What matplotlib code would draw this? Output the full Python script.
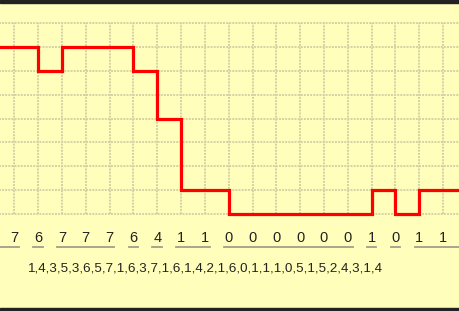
import numpy as np
import matplotlib
matplotlib.use('Agg')
import matplotlib.pyplot as plt
from matplotlib.patches import Rectangle

# sampled levels shown under the trace
values = [7, 6, 7, 7, 7, 6, 4, 1, 1, 0, 0, 0, 0, 0, 0, 1, 0, 1, 1]
levels = list(range(0, 9))
sequence = '1,4,3,5,3,6,5,7,1,6,3,7,1,6,1,4,2,1,6,0,1,1,1,0,5,1,5,2,4,3,1,4'

bg = '#ffffbb'
gridc = '#d6d1a6'

fig = plt.figure(figsize=(4.6, 3.11), dpi=100, facecolor=bg)
ax = fig.add_axes([0, 0, 1, 1])
ax.set_facecolor(bg)
ax.set_xlim(-0.6, 18.71)
ax.set_ylim(-4.06, 8.965)
ax.axis('off')

xs = np.arange(len(values))

# grid
for lv in levels:
    ax.plot([-1, 20], [lv, lv], color=gridc, lw=1.4, ls=(0, (1, 0.6)), zorder=1)
for x in xs:
    ax.plot([x, x], [levels[0], levels[-1]], color=gridc, lw=1.4, ls=(0, (1, 0.6)), zorder=1)

# trace (held level between samples)
tx = np.r_[xs[0] - 1, xs, xs[-1] + 1]
ty = np.r_[values[0], values, values[-1]]
ax.step(tx, ty, where='post', color='#ff0000', lw=2.3, zorder=3, solid_joinstyle='miter')

# sample labels
for x, v in zip(xs, values):
    ax.text(x, -1.0, str(v), ha='center', va='center', fontsize=10.5,
            family='Liberation Sans', color='#222222')

# underline runs of equal values
start = 0
for i in range(1, len(values) + 1):
    if i == len(values) or values[i] != values[start]:
        a = start - 0.2 if start > 0 else -1
        b = i - 1 + 0.2 if i < len(values) else 20
        ax.plot([a, b], [-1.38, -1.38], color='#a09f8a', lw=1.3, zorder=2)
        start = i

ax.text(0.57, -2.3, sequence, ha='left', va='center', fontsize=9.6,
        family='Liberation Sans', color='#222222')

# top / bottom borders
fig.patches.append(Rectangle((0, 1 - 2.5 / 311), 1, 2.5 / 311, transform=fig.transFigure,
                             color='#222222', zorder=5))
fig.patches.append(Rectangle((0, 0), 1, 3 / 311, transform=fig.transFigure,
                             color='#222222', zorder=5))

fig.savefig('out.png', dpi=100, facecolor=bg)
